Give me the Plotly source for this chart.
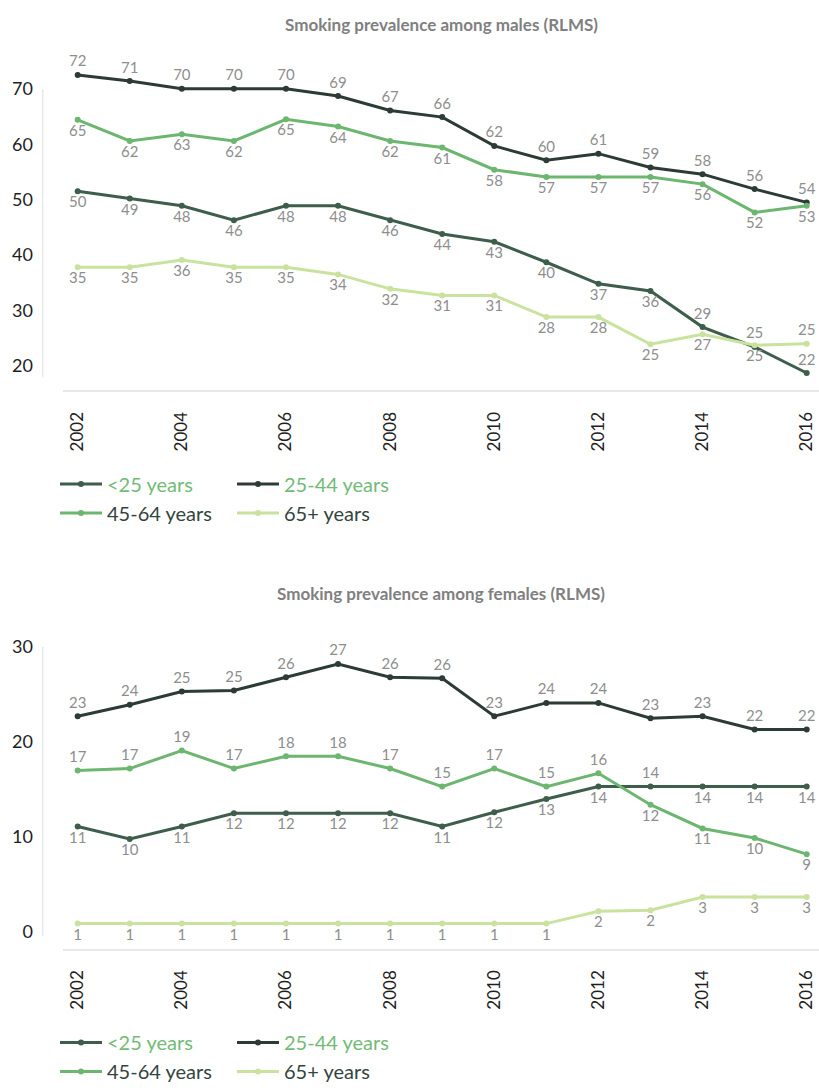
import plotly.graph_objects as go

years = list(range(2002, 2017))
tick_years = [2002, 2004, 2006, 2008, 2010, 2012, 2014, 2016]

# ---- Males (RLMS) : plotted values ----
male_lt25 = [51.5, 50.2, 48.9, 46.3, 48.9, 48.9, 46.3, 43.8, 42.4, 38.7, 34.8, 33.5, 27.0, 23.4, 18.7]
male_25_44 = [72.5, 71.4, 70.0, 70.0, 70.0, 68.7, 66.1, 64.9, 59.7, 57.1, 58.3, 55.8, 54.6, 51.9, 49.5]
male_45_64 = [64.4, 60.6, 61.8, 60.6, 64.5, 63.2, 60.6, 59.4, 55.4, 54.1, 54.1, 54.1, 52.8, 47.7, 48.9]
male_65p = [37.8, 37.8, 39.1, 37.8, 37.8, 36.5, 33.9, 32.7, 32.7, 28.8, 28.8, 23.9, 25.7, 23.7, 24.0]
# data labels as printed
male_lt25_lbl = [50, 49, 48, 46, 48, 48, 46, 44, 43, 40, 37, 36, 29, 25, 22]
male_25_44_lbl = [72, 71, 70, 70, 70, 69, 67, 66, 62, 60, 61, 59, 58, 56, 54]
male_45_64_lbl = [65, 62, 63, 62, 65, 64, 62, 61, 58, 57, 57, 57, 56, 52, 53]
male_65p_lbl = [35, 35, 36, 35, 35, 34, 32, 31, 31, 28, 28, 25, 27, 25, 25]

# ---- Females (RLMS) ----
fem_lt25 = [11.1, 9.8, 11.1, 12.5, 12.5, 12.5, 12.5, 11.1, 12.6, 14.0, 15.3, 15.3, 15.3, 15.3, 15.3]
fem_25_44 = [22.7, 23.9, 25.3, 25.4, 26.8, 28.2, 26.8, 26.7, 22.7, 24.1, 24.1, 22.5, 22.7, 21.3, 21.3]
fem_45_64 = [17.0, 17.2, 19.1, 17.2, 18.5, 18.5, 17.2, 15.3, 17.2, 15.3, 16.7, 13.4, 10.9, 9.9, 8.2]
fem_65p = [0.9, 0.9, 0.9, 0.9, 0.9, 0.9, 0.9, 0.9, 0.9, 0.9, 2.2, 2.3, 3.7, 3.7, 3.7]
fem_lt25_lbl = [11, 10, 11, 12, 12, 12, 12, 11, 12, 13, 14, 14, 14, 14, 14]
fem_25_44_lbl = [23, 24, 25, 25, 26, 27, 26, 26, 23, 24, 24, 23, 23, 22, 22]
fem_45_64_lbl = [17, 17, 19, 17, 18, 18, 17, 15, 17, 15, 16, 12, 11, 10, 9]
fem_65p_lbl = [1, 1, 1, 1, 1, 1, 1, 1, 1, 1, 2, 2, 3, 3, 3]

series_names = ["<25 years", "25-44 years", "45-64 years", "65+ years"]

C_LT25 = "#3e5d4b"
C_2544 = "#2c3b35"
C_4564 = "#6cb66f"
C_65P = "#c9e39e"
LEG_GREEN = "#72bb76"
LEG_DARK = "#34443e"
LBL = "#8e8e8e"
FONT = "Lato, 'Open Sans', sans-serif"

T, B = "top center", "bottom center"

def legname(name, color):
    return '<span style="color:%s">%s</span>' % (color, name.replace("<", "&lt;"))

fig = go.Figure()

def add(y, lbl, pos, color, name, legcolor, xa, ya, legend):
    fig.add_trace(go.Scatter(
        x=years, y=y, text=[str(v) for v in lbl], textposition=pos,
        mode="lines+markers+text",
        line=dict(color=color, width=3),
        marker=dict(color=color, size=6),
        textfont=dict(family=FONT, size=15, color=LBL),
        name=legname(name, legcolor), legend=legend,
        xaxis=xa, yaxis=ya, cliponaxis=False, hoverinfo="skip",
    ))

# males
add(male_lt25, male_lt25_lbl, [B]*12 + [T]*3, C_LT25, series_names[0], LEG_GREEN, "x", "y", "legend")
add(male_25_44, male_25_44_lbl, [T]*15, C_2544, series_names[1], LEG_GREEN, "x", "y", "legend2")
add(male_45_64, male_45_64_lbl, [B]*15, C_4564, series_names[2], LEG_DARK, "x", "y", "legend")
add(male_65p, male_65p_lbl, [B]*14 + [T], C_65P, series_names[3], LEG_DARK, "x", "y", "legend2")
# females
add(fem_lt25, fem_lt25_lbl, [B]*11 + [T] + [B]*3, C_LT25, series_names[0], LEG_GREEN, "x2", "y2", "legend3")
add(fem_25_44, fem_25_44_lbl, [T]*15, C_2544, series_names[1], LEG_GREEN, "x2", "y2", "legend4")
add(fem_45_64, fem_45_64_lbl, [T]*11 + [B]*4, C_4564, series_names[2], LEG_DARK, "x2", "y2", "legend3")
add(fem_65p, fem_65p_lbl, [B]*15, C_65P, series_names[3], LEG_DARK, "x2", "y2", "legend4")

W, H = 819, 1091
def py(px):
    return 1 - px / H
def px_(x):
    return x / W

xdom = [px_(63), 1.0]
xrange_ = [2001.718, 2016.236]

xcommon = dict(
    range=xrange_, domain=xdom, tickvals=tick_years, ticktext=[str(v) for v in tick_years],
    tickangle=-90, showgrid=False, zeroline=False, showline=True, linecolor="#e8e8e8", linewidth=1.5,
    ticks="", ticklabelstandoff=13, tickfont=dict(family=FONT, size=17, color="#1e1e1e"),
)
ycommon = dict(
    showgrid=False, zeroline=False, showline=False, ticks="", ticklabelstandoff=29,
    tickfont=dict(family=FONT, size=18, color="#1e1e1e"),
)

fig.update_layout(
    width=W, height=H, margin=dict(l=0, r=0, t=0, b=0),
    paper_bgcolor="white", plot_bgcolor="white",
    xaxis=dict(**xcommon, anchor="y"),
    yaxis=dict(**ycommon, domain=[py(393.3), py(50)], range=[15.56, 77.08], tickvals=[20, 30, 40, 50, 60, 70], anchor="x"),
    xaxis2=dict(**xcommon, anchor="y2"),
    yaxis2=dict(**ycommon, domain=[py(955.7), py(610)], range=[-1.74, 34.34], tickvals=[0, 10, 20, 30], anchor="x2"),
    showlegend=True,
)

legcommon = dict(orientation="v", xanchor="left", yanchor="top", font=dict(family=FONT, size=20, color=LEG_DARK),
                 bgcolor="rgba(0,0,0,0)", borderwidth=0, tracegroupgap=7, itemwidth=42)
fig.update_layout(
    legend=dict(**legcommon, x=px_(55), y=py(468)),
    legend2=dict(**legcommon, x=px_(232), y=py(468)),
    legend3=dict(**legcommon, x=px_(55), y=py(1031)),
    legend4=dict(**legcommon, x=px_(232), y=py(1031)),
)

# titles
for txt, ypx in [("Smoking prevalence among males (RLMS)", 25), ("Smoking prevalence among females (RLMS)", 598)]:
    fig.add_annotation(text="<b>%s</b>" % txt, x=(xdom[0] + xdom[1]) / 2, y=py(ypx), xref="paper", yref="paper",
                       xanchor="center", yanchor="middle", showarrow=False,
                       font=dict(family=FONT, size=17, color="#808080"))

# separate vertical y-axis lines
for y0, y1 in [(90, 380), (651.7, 942.7)]:
    fig.add_shape(type="line", xref="paper", yref="paper", x0=px_(42.7), x1=px_(42.7), y0=py(y0), y1=py(y1),
                  line=dict(color="#e8e8e8", width=1.5))

fig.write_html("out.html", config={"displayModeBar": False},
               post_script="document.body.style.margin='0';document.body.style.padding='0';"
                           "document.body.style.overflow='hidden';")
